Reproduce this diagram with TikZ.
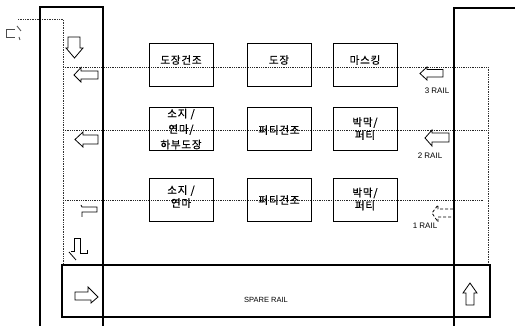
\documentclass[tikz,border=0pt]{standalone}
\usepackage{fontspec}
\newfontfamily\kr[LetterSpace=8,FakeBold=0.6]{Noto Sans CJK KR}
\newfontfamily\lat{Liberation Sans}
\begin{document}
\begin{tikzpicture}[x=1pt,y=-1pt,
  thickline/.style={line width=1.8pt},
  thinline/.style={line width=0.7pt, black!80, densely dotted},
  rowline/.style={line width=0.8pt, black!85, densely dotted},
  procbox/.style={draw, line width=1pt, minimum width=64pt, minimum height=43pt, inner sep=0pt},
  krtext/.style={font=\kr\fontsize{10.5}{14}\selectfont, align=center, inner sep=0pt},
  railtext/.style={font=\lat\fontsize{7.5}{9}\selectfont, inner sep=0pt},
  labeltext/.style={font=\lat\fontsize{8}{9}\selectfont, inner sep=0pt},
  blockarrow/.style={draw, line width=0.8pt, line join=miter}
]
\useasboundingbox (0,0) rectangle (515,326);

% coordinates of the frame
\coordinate (LTL) at (40,7);
\coordinate (LTR) at (103,7);
\coordinate (LBL) at (40,326);
\coordinate (LBR) at (103,326);
\coordinate (RT) at (454,8);
\coordinate (RTE) at (515,8);
\coordinate (RB) at (454,326);
\coordinate (CT1) at (18,19);
\coordinate (CT2) at (63,19);
\coordinate (CB) at (63,265);
\coordinate (RCB) at (488,265);

% row lines
\coordinate (r3a) at (63,67);  \coordinate (r3b) at (488,67);
\coordinate (r2a) at (63,130); \coordinate (r2b) at (488,130);
\coordinate (r1a) at (63,200); \coordinate (r1b) at (483,200);
\draw[rowline] (r3a) -- (r3b);
\draw[rowline] (r2a) -- (r2b);
\draw[rowline] (r1a) -- (r1b);

% thin column lines
\draw[thinline] (CT1) -- (CT2) -- (CB);
\draw[thinline] (r3b) -- (RCB);

% thick frame lines
\draw[thickline] (LBL) -- (LTL) -- (LTR) -- (LBR);
\draw[thickline] (RB) -- (RT) -- (RTE);

% spare rail box
\node[draw, line width=1.8pt, minimum width=428pt, minimum height=52pt, inner sep=0pt] (spare) at (276,291) {};
\node[railtext] (sparetxt) at (266,300) {SPARE RAIL};

% process boxes row 3
\node[procbox] (b31) at (181,65.5) {};
\node[procbox] (b32) at (279,65.5) {};
\node[procbox] (b33) at (365,65.5) {};
\node[krtext] (t31) at (181,60) {도장건조};
\node[krtext] (t32) at (279,60) {도장};
\node[krtext] (t33) at (365,60) {마스킹};

% row 2
\node[procbox] (b21) at (181,129) {};
\node[procbox] (b22) at (279,129) {};
\node[procbox] (b23) at (365,129) {};
\node[krtext, font=\kr\fontsize{10.5}{15.5}\selectfont] (t21) at (181,129) {소지 /\\연마/\\하부도장};
\node[krtext] (t22) at (279,130) {퍼티건조};
\node[krtext, font=\kr\fontsize{10.5}{13}\selectfont] (t23) at (365,128.5) {박막/\\퍼티};

% row 1
\node[procbox] (b11) at (181,200) {};
\node[procbox] (b12) at (279,200) {};
\node[procbox] (b13) at (365,200) {};
\node[krtext, font=\kr\fontsize{10.5}{13}\selectfont] (t11) at (181,196.5) {소지 /\\연마};
\node[krtext] (t12) at (279,200) {퍼티건조};
\node[krtext, font=\kr\fontsize{10.5}{13}\selectfont] (t13) at (365,199) {박막/\\퍼티};

% rail labels
\node[labeltext] (l3) at (437,91) {3 RAIL};
\node[labeltext] (l2) at (430,156) {2 RAIL};
\node[labeltext] (l1) at (425,226) {1 RAIL};

% arrows in the left column
\draw[blockarrow] (68,37) -- (80,37) -- (80,48) -- (83,48) -- (74.5,58) -- (66,48) -- (68,48) -- cycle;
\draw[blockarrow] (98,71) -- (81,71) -- (81,67.5) -- (74,75) -- (81,82) -- (81,79) -- (98,79) -- cycle;
\draw[blockarrow] (98,135) -- (83,135) -- (83,132) -- (75,139.5) -- (83,147) -- (83,144) -- (98,144) -- cycle;
\draw[blockarrow] (81,205) -- (82,207) -- (97,207) -- (97,212) -- (82,212) -- (82,217);
\draw[blockarrow] (87,250) -- (87,253.5) -- (80,253.5) -- (80,238) -- (74,238) -- (74,251) -- (71,251);
\draw[blockarrow] (69,252) -- (76,260);
\draw[blockarrow] (75,292) -- (88,292) -- (88,287) -- (98,297) -- (91,303) -- (91,300) -- (75,300) -- cycle;

% arrows in the right column
\draw[blockarrow] (443,69.5) -- (427,69.5) -- (427,67) -- (420,73.5) -- (427,80) -- (427,77) -- (443,77) -- cycle;
\draw[blockarrow] (449,133) -- (432,133) -- (432,130) -- (425,138) -- (432,146) -- (432,142) -- (449,142) -- cycle;
\draw[blockarrow, densely dashed] (453,209) -- (438,209) -- (438,205) -- (432,213) -- (438,222) -- (438,217) -- (453,217);
\draw[blockarrow] (466,305) -- (466,293) -- (463,293) -- (470,283) -- (477,293) -- (474,293) -- (474,305) -- cycle;

% small arrow at the top left
\draw[blockarrow, black!70] (15,29) -- (6,29) -- (6,37) -- (15,37);
\draw[blockarrow, black!70] (17,26) -- (21,31);
\draw[blockarrow, black!70] (19,37) -- (20,40);
\end{tikzpicture}
\end{document}
